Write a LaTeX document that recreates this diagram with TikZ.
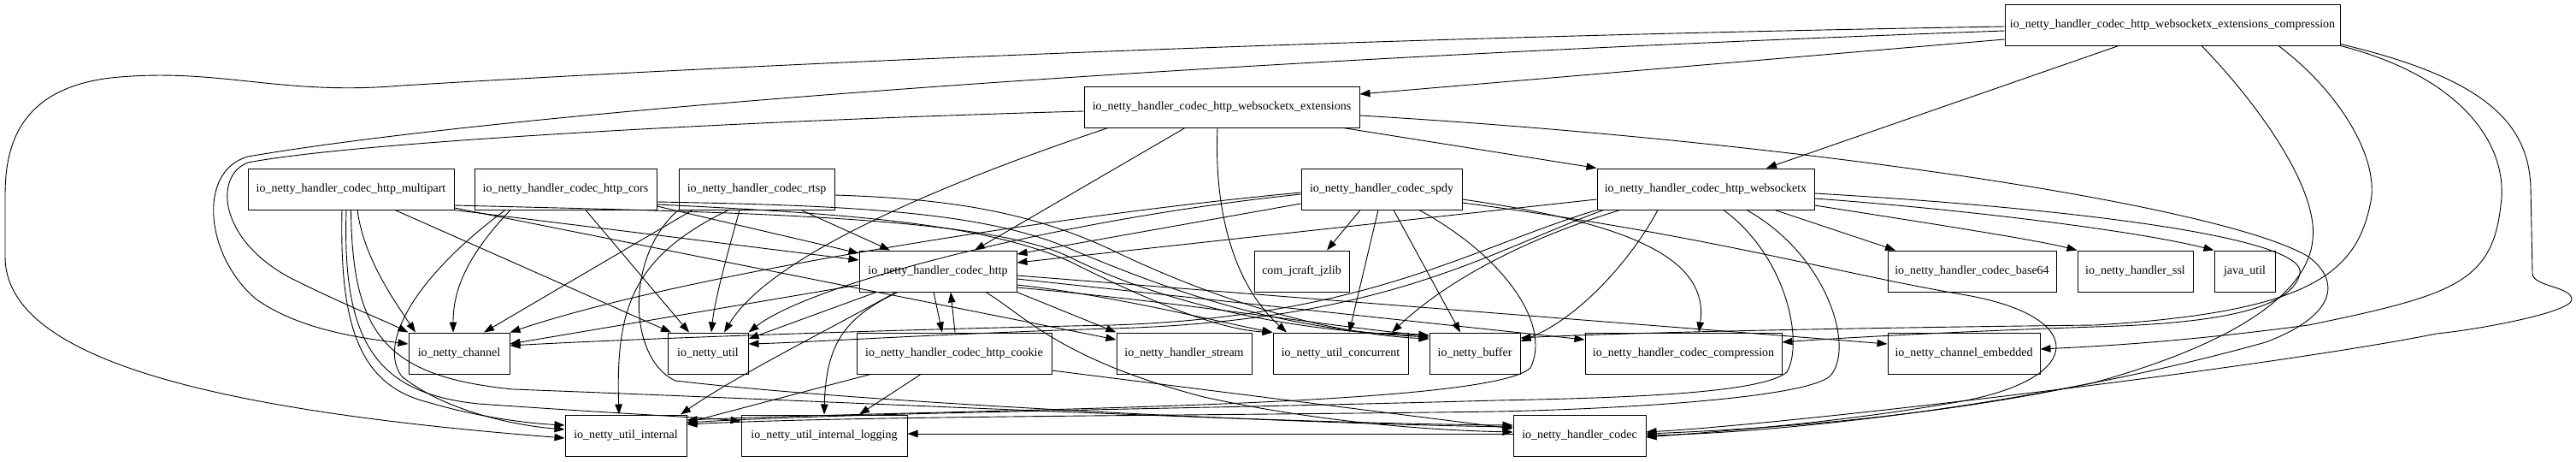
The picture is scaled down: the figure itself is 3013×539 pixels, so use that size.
\documentclass[tikz,border=0pt]{standalone}
\usepackage{fontspec}
\setmainfont{Liberation Serif}
\usetikzlibrary{arrows.meta}
\begin{document}
\begin{tikzpicture}[x=1pt,y=-1pt,
  box/.style={draw, line width=1pt, minimum height=48pt, inner xsep=4pt, inner ysep=0pt, font=\fontsize{14}{16}\selectfont},
  dep/.style={-{Triangle[length=12pt,width=8.5pt]}, line width=0.9pt}]
\useasboundingbox (0,0) rectangle (3013,539);
\fill[white] (0,0) rectangle (3013,539);
% nodes
\node[box, minimum width=392pt] (EC) at (2541,29) {io\_netty\_handler\_codec\_http\_websocketx\_extensions\_compression};
\node[box, minimum width=322pt] (WE) at (1429,125) {io\_netty\_handler\_codec\_http\_websocketx\_extensions};
\node[box, minimum width=241pt] (MP) at (410.5,221) {io\_netty\_handler\_codec\_http\_multipart};
\node[box, minimum width=213pt] (CO) at (661.5,221) {io\_netty\_handler\_codec\_http\_cors};
\node[box, minimum width=182pt] (RT) at (885,221) {io\_netty\_handler\_codec\_rtsp};
\node[box, minimum width=188pt] (SP) at (1616,221) {io\_netty\_handler\_codec\_spdy};
\node[box, minimum width=254pt] (WS) at (1995,221) {io\_netty\_handler\_codec\_http\_websocketx};
\node[box, minimum width=184pt] (HT) at (1097,317) {io\_netty\_handler\_codec\_http};
\node[box, minimum width=111pt] (JZ) at (1522.5,317) {com\_jcraft\_jzlib};
\node[box, minimum width=197pt] (B64) at (2306.5,317) {io\_netty\_handler\_codec\_base64};
\node[box, minimum width=135pt] (SSL) at (2497.5,317) {io\_netty\_handler\_ssl};
\node[box, minimum width=71pt] (JU) at (2625.5,317) {java\_util};
\node[box, minimum width=118pt] (CH) at (537,413) {io\_netty\_channel};
\node[box, minimum width=94pt] (UT) at (828,413) {io\_netty\_util};
\node[box, minimum width=228pt] (CK) at (1116,413) {io\_netty\_handler\_codec\_http\_cookie};
\node[box, minimum width=158pt] (ST) at (1385,413) {io\_netty\_handler\_stream};
\node[box, minimum width=158pt] (UC) at (1568,413) {io\_netty\_util\_concurrent};
\node[box, minimum width=106pt] (BU) at (1725,413) {io\_netty\_buffer};
\node[box, minimum width=230pt] (CC) at (1969,413) {io\_netty\_handler\_codec\_compression};
\node[box, minimum width=178pt] (CE) at (2297,413) {io\_netty\_channel\_embedded};
\node[box, minimum width=142pt] (UI) at (732,509) {io\_netty\_util\_internal};
\node[box, minimum width=194pt] (LG) at (964,509) {io\_netty\_util\_internal\_logging};
\node[box, minimum width=155pt] (HC) at (1847.5,509) {io\_netty\_handler\_codec};

% ext compression
\draw[dep] ([yshift=-2pt]EC.west) .. controls (1500,45) and (800,80) .. (470,100) .. controls (330,112) and (260,80) .. (140,90) .. controls (15,100) and (6,180) .. (6,230) -- (6,300) .. controls (6,420) and (250,480) .. ([yshift=-3pt]UI.west);
\draw[dep] ([yshift=-7pt]EC.west) .. controls (1400,70) and (600,130) .. (290,183) .. controls (230,200) and (240,300) .. (300,350) .. controls (350,385) and (420,395) .. ([yshift=11pt]CH.west);
\draw[dep] ([yshift=-17pt]EC.west) -- ([yshift=15pt]WE.east);
\draw[dep] ([xshift=-63pt]EC.south) -- ([xshift=71pt]WS.north);
\draw[dep] ([xshift=34pt]EC.south) .. controls (2640,120) and (2712,220) .. (2705,280) .. controls (2700,340) and (2620,400) .. (2450,447) .. controls (2250,490) and (2050,502) .. ([yshift=2pt]HC.east);
\draw[dep] ([xshift=124pt]EC.south) .. controls (2740,110) and (2785,190) .. (2772,240) .. controls (2755,320) and (2700,365) .. (2450,380) .. controls (2100,384) and (1870,390) .. ([yshift=18pt]BU.east);
\draw[dep] (EC.south east) .. controls (2880,90) and (2935,170) .. (2925,240) .. controls (2915,330) and (2870,345) .. (2700,380) .. controls (2550,400) and (2450,405) .. ([yshift=5pt]CE.east);
\draw[dep] ([yshift=2pt]EC.south east) .. controls (2900,90) and (2958,140) .. (2960,220) -- (2962,320) .. controls (2963,335) and (3008,335) .. (3008,350) .. controls (3008,365) and (2900,385) .. (2850,390) .. controls (2650,430) and (2100,495) .. ([yshift=4pt]HC.east);

% ws extensions
\draw[dep] ([yshift=-5pt]WE.west) .. controls (900,140) and (420,165) .. (290,190) .. controls (250,205) and (255,280) .. (340,325) .. controls (400,355) and (450,375) .. (CH.north west);
\draw[dep] ([xshift=-133pt]WE.south) .. controls (1100,215) and (900,300) .. ([xshift=19pt]UT.north);
\draw[dep] ([xshift=-43pt]WE.south) -- ([xshift=43pt]HT.north);
\draw[dep] ([xshift=-5pt]WE.south) .. controls (1420,240) and (1440,330) .. ([xshift=-63pt]UC.north);
\draw[dep] ([xshift=142pt]WE.south) -- (WS.north west);
\draw[dep] ([yshift=-10pt]WE.east) .. controls (2100,165) and (2600,240) .. (2700,300) .. controls (2740,330) and (2730,370) .. (2650,400) .. controls (2400,470) and (2100,505) .. (HC.east);

% multipart
\draw[dep] ([xshift=7.5pt]MP.south) .. controls (425,300) and (460,350) .. ([xshift=-51pt]CH.north);
\draw[dep] ([xshift=51.5pt]MP.south) -- ([xshift=-43pt]UT.north);
\draw[dep] (MP.south east) -- ([yshift=13pt]HT.west);
\draw[dep] ([yshift=-22pt]MP.east) -- ([yshift=16pt]ST.west);
\draw[dep] ([yshift=-19pt]MP.east) .. controls (850,248) and (1150,252) .. (1250,300) .. controls (1350,350) and (1500,388) .. ([yshift=21pt]BU.west);
\draw[dep] ([xshift=-10.5pt]MP.south) .. controls (397,380) and (420,450) .. (500,470) .. controls (560,488) and (620,495) .. ([yshift=12pt]UI.west);
\draw[dep] ([xshift=-5.5pt]MP.south) .. controls (400,400) and (440,460) .. (560,472) .. controls (700,482) and (820,488) .. ([yshift=17pt]LG.west);
\draw[dep] (MP.south) .. controls (412,390) and (450,440) .. (600,455) .. controls (1000,470) and (1500,495) .. ([yshift=12pt]HC.west);

% cors
\draw[dep] ([xshift=-64.5pt]CO.south) .. controls (545,300) and (530,340) .. ([xshift=-7pt]CH.north);
\draw[dep] ([xshift=23.5pt]CO.south) -- ([xshift=-22pt]UT.north);
\draw[dep] ([yshift=-20pt]CO.east) -- ([yshift=21pt]HT.west);
\draw[dep] ([xshift=-70.5pt]CO.south) .. controls (490,320) and (440,400) .. (470,440) .. controls (520,480) and (600,497) .. ([yshift=7pt]UI.west);
\draw[dep] ([yshift=-15pt]CO.east) .. controls (1000,240) and (1150,248) .. (1250,290) .. controls (1380,345) and (1500,385) .. ([yshift=19pt]BU.west);
\draw[dep] ([yshift=-18pt]CO.east) .. controls (1000,250) and (1150,262) .. (1250,305) .. controls (1330,345) and (1420,385) .. (UC.north west);

% rtsp
\draw[dep] ([xshift=-75pt]RT.south) -- ([xshift=29pt]CH.north);
\draw[dep] (RT.south west) .. controls (730,300) and (735,420) .. (790,445) .. controls (1000,470) and (1500,495) .. ([yshift=10pt]HC.west);
\draw[dep] ([xshift=-33pt]RT.south) .. controls (740,300) and (720,360) .. ([xshift=-8pt]UI.north);
\draw[dep] ([xshift=-20pt]RT.south) .. controls (850,300) and (836,350) .. ([xshift=4pt]UT.north);
\draw[dep] ([xshift=52pt]RT.south) -- ([xshift=-56pt]HT.north);
\draw[dep] ([yshift=-7pt]RT.east) .. controls (1100,232) and (1200,245) .. (1300,292) .. controls (1420,350) and (1550,390) .. ([yshift=17pt]BU.west);

% spdy
\draw[dep] ([yshift=-4pt]SP.west) .. controls (1250,250) and (800,320) .. (CH.north east);
\draw[dep] ([yshift=-6pt]SP.west) .. controls (1250,255) and (950,330) .. (UT.north east);
\draw[dep] ([yshift=-17pt]SP.west) -- ([yshift=20pt]HT.east);
\draw[dep] ([xshift=-25pt]SP.south) -- ([xshift=29.5pt]JZ.north);
\draw[dep] ([xshift=-4pt]SP.south) -- ([xshift=10pt]UC.north);
\draw[dep] ([xshift=14pt]SP.south) -- ([xshift=-17pt]BU.north);
\draw[dep] ([xshift=44pt]SP.south) .. controls (1760,300) and (1815,380) .. (1790,430) .. controls (1740,478) and (1100,478) .. ([yshift=18pt]UI.east);
\draw[dep] ([yshift=-12pt]SP.east) .. controls (1900,260) and (2000,300) .. ([xshift=18pt]CC.north);
\draw[dep] ([yshift=-16pt]SP.east) .. controls (2000,275) and (2150,320) .. (2300,345) .. controls (2440,370) and (2440,440) .. (2300,468) .. controls (2150,495) and (2000,505) .. ([yshift=-2pt]HC.east);

% websocketx
\draw[dep] ([yshift=-12pt]WS.west) -- ([yshift=10pt]HT.east);
\draw[dep] (WS.south west) .. controls (1720,290) and (1600,370) .. (1300,380) .. controls (1000,386) and (700,398) .. ([yshift=9pt]CH.east);
\draw[dep] ([xshift=8pt]WS.south west) .. controls (1740,295) and (1620,375) .. (1300,384) .. controls (1100,390) and (950,400) .. ([yshift=11pt]UT.east);
\draw[dep] ([xshift=-100pt]WS.south) .. controls (1780,280) and (1690,330) .. ([xshift=60pt]UC.north);
\draw[dep] ([xshift=-56pt]WS.south) .. controls (1910,300) and (1850,370) .. ([yshift=14pt]BU.east);
\draw[dep] ([xshift=81pt]WS.south) -- ([xshift=-89.5pt]B64.north);
\draw[dep] ([yshift=-19pt]WS.east) .. controls (2250,260) and (2380,280) .. (SSL.north west);
\draw[dep] ([yshift=-11pt]WS.east) .. controls (2300,245) and (2500,270) .. (JU.north west);
\draw[dep] ([yshift=-5pt]WS.east) .. controls (2450,245) and (2700,280) .. (2690,320) .. controls (2680,360) and (2600,378) .. (2450,382) .. controls (2300,387) and (2150,395) .. ([yshift=13pt]CC.east);
\draw[dep] ([xshift=21pt]WS.south) .. controls (2090,300) and (2110,400) .. (2090,435) .. controls (2060,460) and (1900,465) .. (1750,468) .. controls (1400,478) and (1000,482) .. ([yshift=15pt]UI.east);
\draw[dep] ([xshift=48pt]WS.south) .. controls (2140,300) and (2170,410) .. (2140,440) .. controls (2110,465) and (1900,478) .. (1750,481) .. controls (1400,486) and (1000,486) .. ([yshift=13pt]UI.east);

% http
\draw[dep] ([yshift=-16pt]HT.west) -- ([yshift=11pt]CH.east);
\draw[dep] ([xshift=-72pt]HT.south) -- ([yshift=17pt]UT.east);
\draw[dep] ([xshift=-49pt]HT.south) .. controls (960,390) and (860,440) .. ([xshift=64pt]UI.north);
\draw[dep] ([xshift=-47pt]HT.south) .. controls (990,370) and (966,400) .. (LG.north);
\draw[dep] ([xshift=-5pt]HT.south) -- ([xshift=-14pt]CK.north);
\draw[dep] ([xshift=1pt]CK.north) -- ([xshift=15pt]HT.south);
\draw[dep] (HT.south east) -- (ST.north west);
\draw[dep] ([yshift=-16pt]HT.east) .. controls (1300,345) and (1420,375) .. (UC.north west);
\draw[dep] ([yshift=-19pt]HT.east) .. controls (1400,355) and (1580,385) .. ([yshift=21pt]BU.west);
\draw[dep] ([yshift=-9pt]HT.east) -- ([yshift=16pt]CC.west);
\draw[dep] ([yshift=-5pt]HT.east) -- ([yshift=11pt]CE.west);
\draw[dep] ([xshift=56pt]HT.south) .. controls (1200,370) and (1240,420) .. (1408,464) .. controls (1550,495) and (1680,503) .. ([yshift=4pt]HC.west);

% cookie
\draw[dep] ([xshift=-98pt]CK.south) -- ([yshift=15pt]UI.east);
\draw[dep] ([xshift=-39pt]CK.south) -- ([xshift=41pt]LG.north);
\draw[dep] ([yshift=-20pt]CK.east) -- ([yshift=8pt]HC.west);

% handler codec
\draw[dep] ([yshift=2pt]HC.west) -- ([yshift=2pt]LG.east);
\end{tikzpicture}
\end{document}
